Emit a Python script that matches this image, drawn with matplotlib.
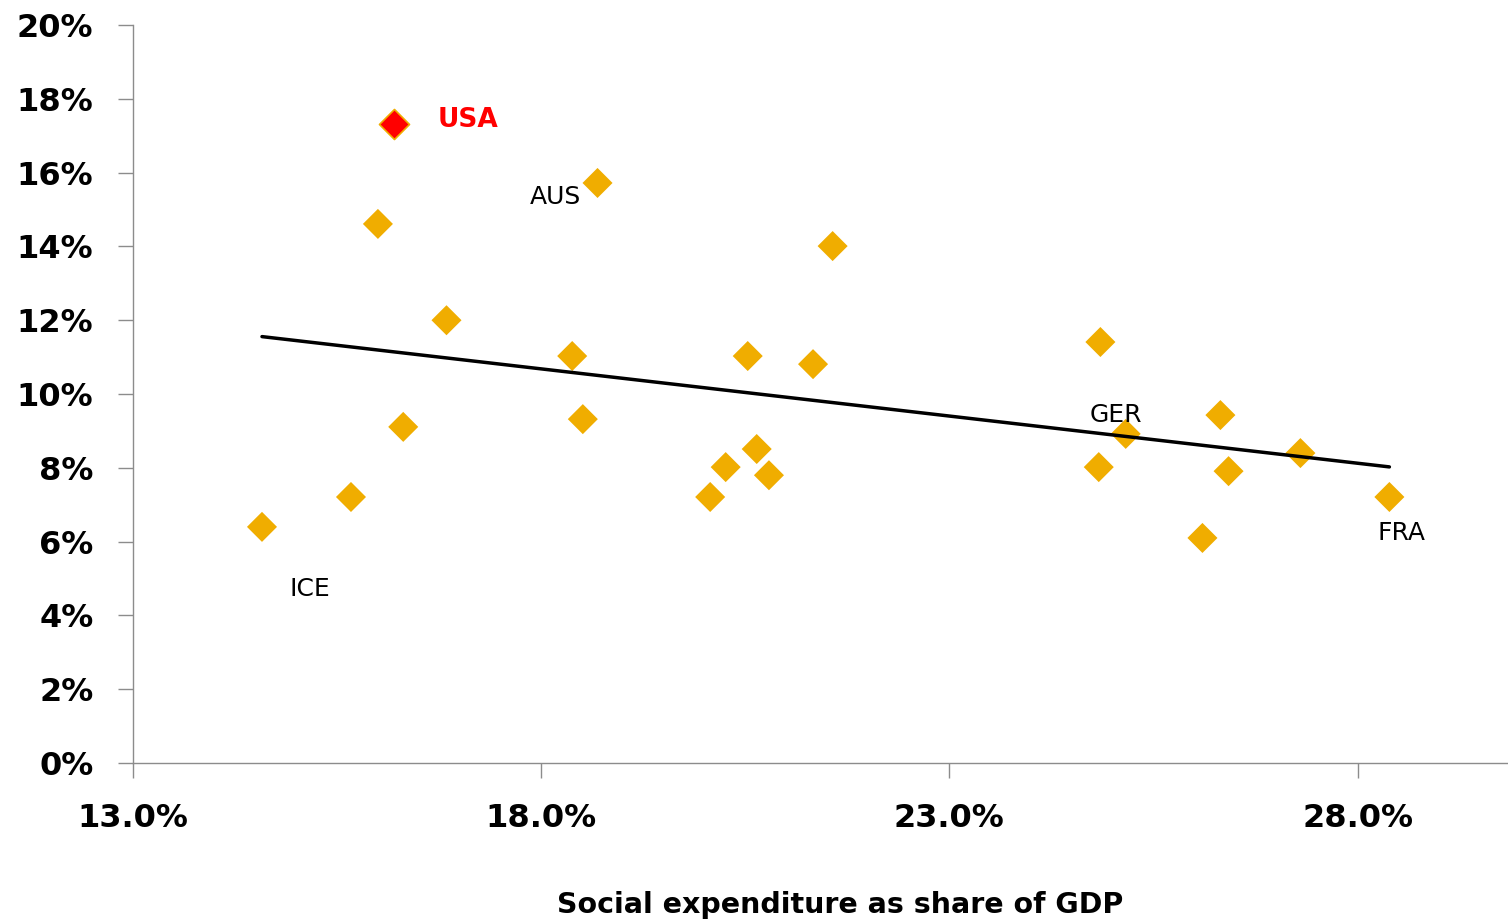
"""Poverty rate vs social expenditure scatter with trend line."""
import numpy as np
import matplotlib
matplotlib.use('Agg')
import matplotlib.pyplot as plt

# social expenditure (% of GDP) and poverty rate (%) per country
countries = ['USA', 'AUS', '', '', '', '', '', '', '', '', '', '', 'GER', '', '', '',
             '', '', '', '', 'FRA', '', 'ICE', '']
social_exp = [16.20, 18.69, 16.00, 21.57, 16.84, 18.38, 20.53, 21.33, 24.85, 16.31,
              18.51, 26.32, 25.16, 20.64, 20.26, 20.79, 20.07, 24.83, 26.42, 27.30,
              28.39, 26.10, 14.58, 15.67]
poverty = [17.32, 15.72, 14.61, 14.01, 12.00, 11.03, 11.03, 10.81, 11.41, 9.11,
           9.32, 9.43, 8.92, 8.51, 8.02, 7.80, 7.21, 8.02, 7.91, 8.40,
           7.21, 6.10, 6.40, 7.21]

x_ticks = [13.0, 18.0, 23.0, 28.0]
y_ticks = [0, 2, 4, 6, 8, 10, 12, 14, 16, 18, 20]

orange = '#F0AD00'
gray = '#8C8C8C'

fig = plt.figure(figsize=(15.08, 9.24), dpi=100)
ax = fig.add_axes([0.0882, 0.1742, 0.9111, 0.7987])

x = np.array(social_exp)
y = np.array(poverty)
is_usa = np.array([c == 'USA' for c in countries])

ax.scatter(x[~is_usa], y[~is_usa], marker='D', s=15.3**2, color=orange,
           edgecolors='none', zorder=2)
ax.scatter(x[is_usa], y[is_usa], marker='D', s=15.3**2, color='red',
           edgecolors=orange, linewidths=1.2, zorder=2)

# linear trend
slope, icpt = np.polyfit(x, y, 1)
xs = np.array([x.min(), x.max()])
ax.plot(xs, slope * xs + icpt, color='black', lw=2.5, zorder=3,
        solid_capstyle='round')

# country labels (offsets in points)
label_style = {
    'USA': dict(off=(31, 2.5), ha='left', color='red', weight='bold', size=19),
    'AUS': dict(off=(-12, -10), ha='right', color='black', weight='normal', size=18),
    'GER': dict(off=(-7, 13.5), ha='center', color='black', weight='normal', size=18),
    'FRA': dict(off=(8.5, -26), ha='center', color='black', weight='normal', size=18),
    'ICE': dict(off=(34.5, -45), ha='center', color='black', weight='normal', size=18),
}
for c, xv, yv in zip(countries, social_exp, poverty):
    if c in label_style:
        st = label_style[c]
        ax.annotate(c, (xv, yv), xytext=st['off'], textcoords='offset points',
                    ha=st['ha'], va='center', color=st['color'],
                    fontweight=st['weight'], fontsize=st['size'], zorder=4)

ax.set_xlim(13.0, 29.83)
ax.set_ylim(0, 20)
ax.set_xticks(x_ticks)
ax.set_xticklabels([f'{t:.1f}%' for t in x_ticks])
ax.set_yticks(y_ticks)
ax.set_yticklabels([f'{t}%' for t in y_ticks])

for side in ['top', 'right']:
    ax.spines[side].set_visible(False)
for side in ['left', 'bottom']:
    ax.spines[side].set_color(gray)
    ax.spines[side].set_linewidth(1.0)

ax.tick_params(axis='both', direction='out', length=10.5, width=1.0, color=gray,
               labelsize=23)
ax.tick_params(axis='y', pad=18)
ax.tick_params(axis='x', pad=18)
for lab in ax.get_xticklabels() + ax.get_yticklabels():
    lab.set_fontweight('bold')

ax.set_xlabel('Social expenditure as share of GDP', fontsize=20.5, fontweight='bold')
ax.xaxis.set_label_coords(0.5146, -0.192)
ax.xaxis.label.set_va('center')

fig.savefig('out.png', dpi=100)
